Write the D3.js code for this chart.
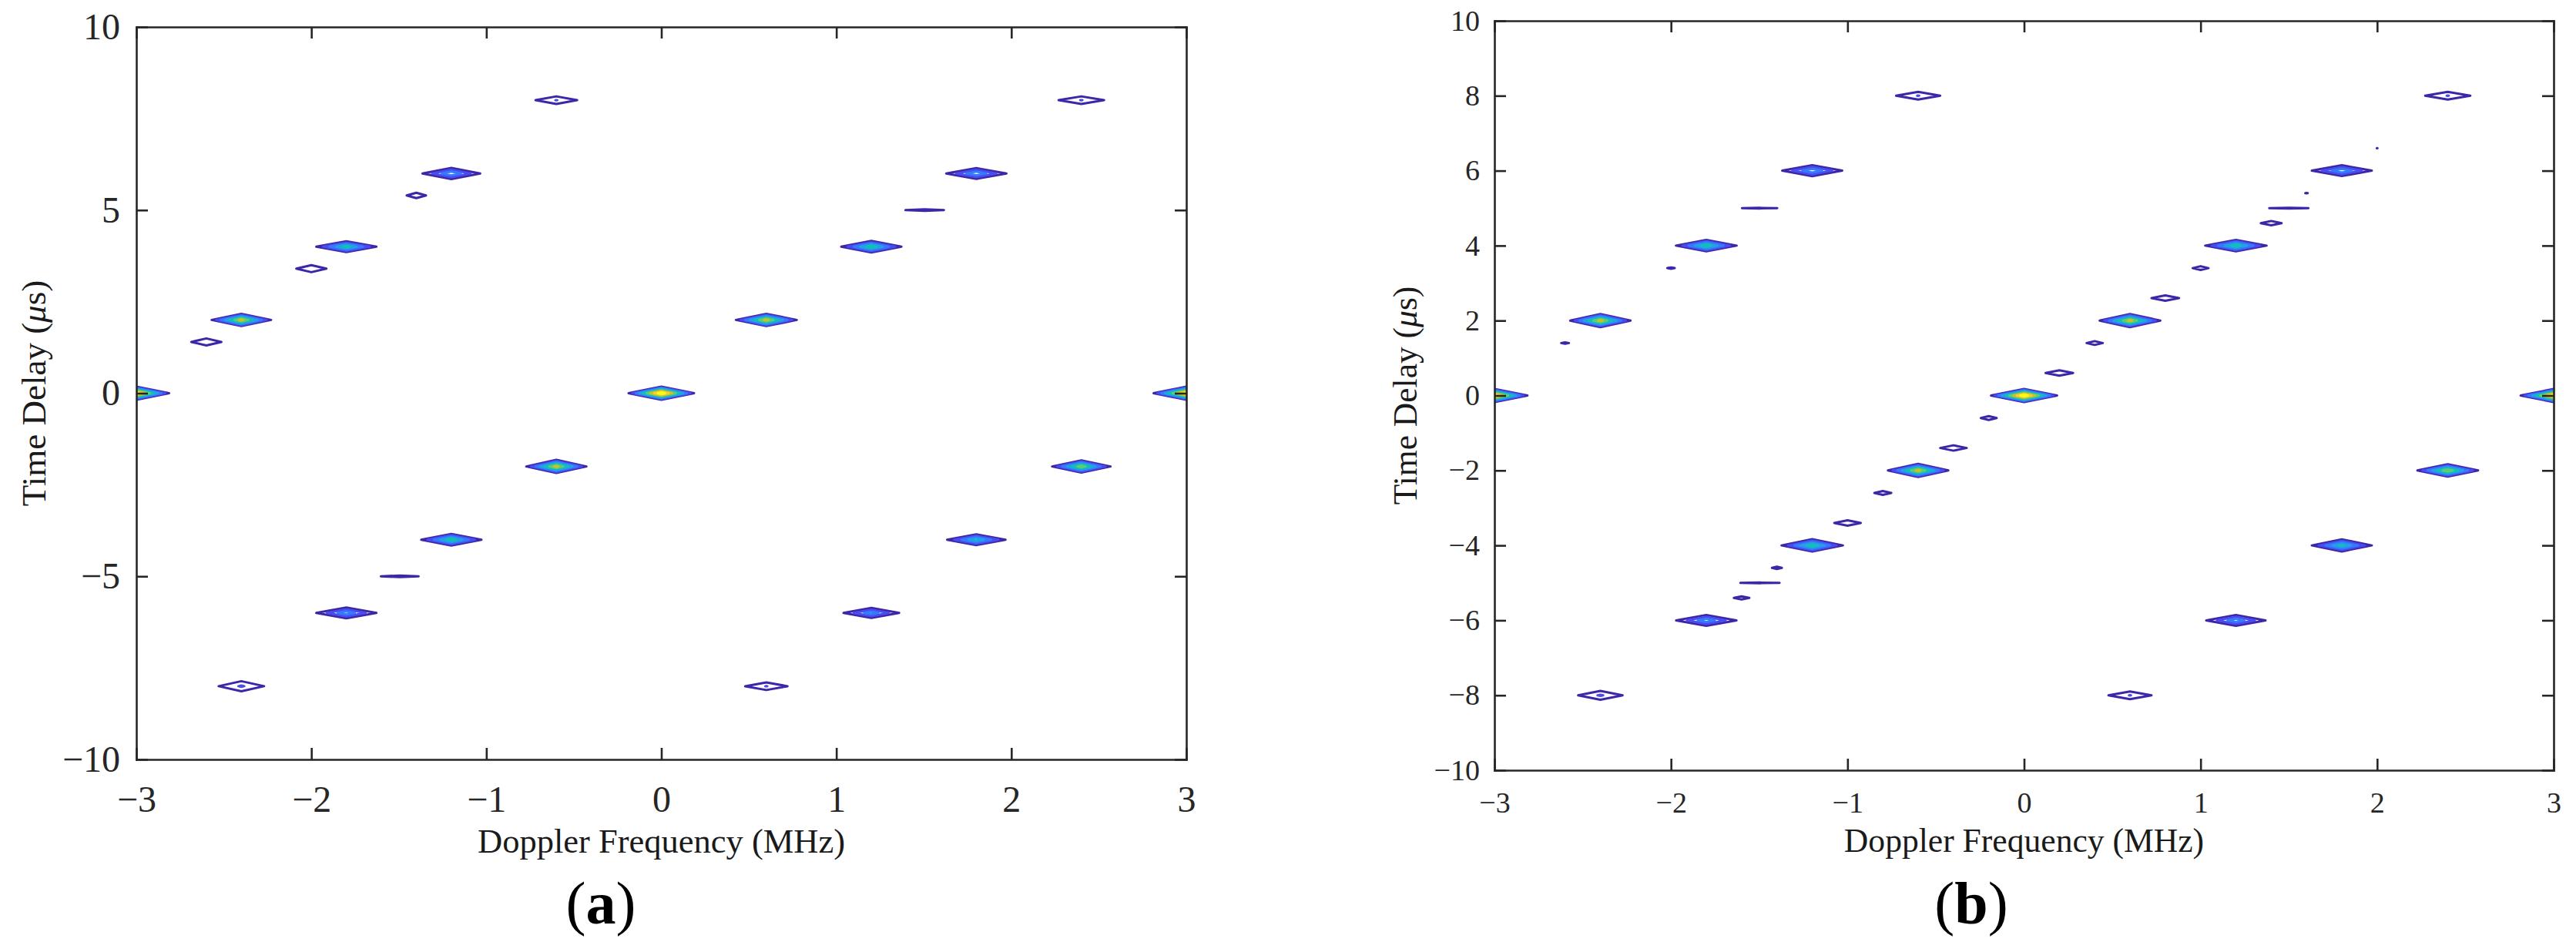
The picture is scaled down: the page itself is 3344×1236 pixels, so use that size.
<!DOCTYPE html>
<html>
<head>
<meta charset="utf-8">
<script src="https://cdn.jsdelivr.net/npm/d3@7"></script>
<style>
  body { margin: 0; background: #ffffff; }
  svg { display: block; }
</style>
</head>
<body>
<svg id="chart" width="3344" height="1236"></svg>
<script>
// ================= DATA =================
const dopplerTicks = [-3, -2, -1, 0, 1, 2, 3];          // MHz
const delayTicksA  = [-10, -5, 0, 5, 10];                // μs
const delayTicksB  = [-10, -8, -6, -4, -2, 0, 2, 4, 6, 8, 10];
const contourLevels = [0.1, 0.2, 0.3, 0.4, 0.5, 0.6, 0.7, 0.8, 0.9];

// Panel (a): peaks of the ambiguity function
const aDoppler = [0, -3, 3, 0.6, -2.4, -0.6, 2.4, -1.8, 1.2, -1.2, 1.8, -1.2, 1.8, -1.8, 1.2, -0.6, 2.4, -2.4, 0.6,
                  -1.4, -2.0, -2.6, -1.495, 1.505];
const aDelay   = [0, 0, 0, 2, 2, -2, -2, 4, 4, -4, -4, 6, 6, -6, -6, 8, 8, -8, -8,
                  5.4, 3.4, 1.4, -5, 5];
const aPeak    = [1.0, 0.95, 0.95, 0.75, 0.75, 0.75, 0.68, 0.55, 0.58, 0.57, 0.5, 0.4, 0.4, 0.38, 0.37, 0.205, 0.205, 0.215, 0.205,
                  0.13, 0.15, 0.15, 0.14, 0.14];
const aHalfWidth  = [0.187, 0.187, 0.187, 0.174, 0.170, 0.172, 0.167, 0.172, 0.172, 0.172, 0.167, 0.165, 0.172, 0.172, 0.159, 0.119, 0.130, 0.130, 0.121,
                     0.055, 0.086, 0.086, 0.108, 0.110];
const aHalfHeight = [0.179, 0.179, 0.179, 0.168, 0.168, 0.179, 0.168, 0.147, 0.158, 0.158, 0.147, 0.152, 0.147, 0.147, 0.137, 0.105, 0.105, 0.137, 0.105,
                     0.074, 0.095, 0.095, 0.022, 0.020];

// Panel (b)
const bDoppler = [0, -3, 3, 0.6, -2.4, -0.6, 2.4, -1.8, 1.2, -1.2, 1.8, -1.2, 1.8, -1.8, 1.2, -0.6, 2.4, -2.4, 0.6,
                  -2.6, -2.0, -1.498, -1.0, -1.4, -1.496, -1.6, -0.8, -0.4, -0.2, 0.2, 0.4, 0.8, 1.0, 1.4, 1.5, 1.6, 2.0];
const bDelay   = [0, 0, 0, 2, 2, -2, -2, 4, 4, -4, -4, 6, 6, -6, -6, 8, 8, -8, -8,
                  1.4, 3.4, 5, -3.4, -4.6, -5, -5.4, -2.6, -1.4, -0.6, 0.6, 1.4, 2.6, 3.4, 4.6, 5, 5.4, 6.6];
const bPeak    = [1.0, 0.95, 0.95, 0.75, 0.75, 0.75, 0.7, 0.57, 0.57, 0.57, 0.52, 0.4, 0.4, 0.38, 0.38, 0.205, 0.205, 0.215, 0.205,
                  0.11, 0.11, 0.13, 0.14, 0.115, 0.13, 0.125, 0.125, 0.14, 0.125, 0.14, 0.125, 0.14, 0.125, 0.13, 0.13, 0.105, 0.102];
const bHalfWidth  = [0.187, 0.187, 0.187, 0.172, 0.171, 0.171, 0.172, 0.172, 0.174, 0.174, 0.170, 0.170, 0.170, 0.171, 0.168, 0.125, 0.128, 0.126, 0.122,
                     0.022, 0.021, 0.100, 0.075, 0.028, 0.111, 0.044, 0.048, 0.075, 0.045, 0.078, 0.046, 0.078, 0.045, 0.059, 0.111, 0.007, 0.002];
const bHalfHeight = [0.175, 0.175, 0.175, 0.175, 0.175, 0.175, 0.165, 0.154, 0.154, 0.165, 0.161, 0.148, 0.144, 0.144, 0.144, 0.103, 0.103, 0.119, 0.103,
                     0.020, 0.020, 0.008, 0.072, 0.031, 0.008, 0.041, 0.051, 0.072, 0.051, 0.072, 0.051, 0.072, 0.051, 0.058, 0.008, 0.005, 0.002];

// parula colormap
const parulaMap = [
[0.2422,0.1504,0.6603],[0.2504,0.1650,0.7076],[0.2578,0.1818,0.7511],[0.2647,0.1978,0.7952],[0.2706,0.2147,0.8364],[0.2751,0.2342,0.8710],[0.2783,0.2559,0.8991],[0.2803,0.2782,0.9221],
[0.2813,0.3006,0.9414],[0.2810,0.3228,0.9579],[0.2795,0.3447,0.9717],[0.2760,0.3667,0.9829],[0.2699,0.3892,0.9906],[0.2602,0.4123,0.9952],[0.2440,0.4358,0.9988],[0.2206,0.4603,0.9973],
[0.1963,0.4847,0.9892],[0.1834,0.5074,0.9798],[0.1786,0.5289,0.9682],[0.1764,0.5499,0.9520],[0.1687,0.5703,0.9359],[0.1540,0.5902,0.9218],[0.1460,0.6091,0.9079],[0.1380,0.6276,0.8973],
[0.1248,0.6459,0.8883],[0.1113,0.6635,0.8763],[0.0952,0.6798,0.8598],[0.0689,0.6948,0.8394],[0.0297,0.7082,0.8163],[0.0036,0.7203,0.7917],[0.0067,0.7312,0.7660],[0.0433,0.7411,0.7394],
[0.0964,0.7500,0.7120],[0.1408,0.7584,0.6842],[0.1717,0.7670,0.6554],[0.1938,0.7758,0.6251],[0.2161,0.7843,0.5923],[0.2470,0.7918,0.5567],[0.2906,0.7973,0.5188],[0.3406,0.8008,0.4789],
[0.3909,0.8029,0.4354],[0.4456,0.8024,0.3909],[0.5044,0.7993,0.3480],[0.5616,0.7942,0.3045],[0.6174,0.7876,0.2612],[0.6720,0.7793,0.2227],[0.7242,0.7698,0.1910],[0.7738,0.7598,0.1646],
[0.8203,0.7498,0.1535],[0.8634,0.7406,0.1596],[0.9035,0.7330,0.1774],[0.9393,0.7288,0.2100],[0.9728,0.7298,0.2394],[0.9956,0.7434,0.2371],[0.9970,0.7659,0.2199],[0.9952,0.7893,0.2028],
[0.9892,0.8136,0.1885],[0.9786,0.8386,0.1766],[0.9676,0.8639,0.1643],[0.9610,0.8890,0.1537],[0.9597,0.9135,0.1423],[0.9628,0.9373,0.1265],[0.9691,0.9606,0.1064],[0.9769,0.9839,0.0805]];

// ================= RENDER =================
const svg = d3.select("#chart");
const FONT = "'Liberation Serif', 'Times New Roman', Times, serif";
const AXIS_COLOR = "#262626";
const intFormat = d3.format("d");

const parulaInterp = d3.piecewise(d3.interpolateRgb,
  parulaMap.map(c => d3.rgb(c[0] * 255, c[1] * 255, c[2] * 255)));
const levelColor = d3.scaleSequential(parulaInterp)
  .domain([contourLevels[0], contourLevels[contourLevels.length - 1]]);

function makePeaks(fs, ts, amps, ws, hs) {
  return fs.map((f, i) => ({ f, t: ts[i], A: amps[i], w: ws[i], h: hs[i] }));
}

const panels = [
  { id: "a", peaks: makePeaks(aDoppler, aDelay, aPeak, aHalfWidth, aHalfHeight), yTicks: delayTicksA,
    x0: 177, x1: 1540, y0: 35, y1: 986,
    tickFont: 48, tickPadX: 34, tickPadY: 21,
    xTitleFont: 44.5, xTitleY: 1107, yTitleFont: 45, yTitleX: 59,
    labelX: 780, labelY: 1199 },
  { id: "b", peaks: makePeaks(bDoppler, bDelay, bPeak, bHalfWidth, bHalfHeight), yTicks: delayTicksB,
    x0: 1940, x1: 3315, y0: 27, y1: 1000,
    tickFont: 38, tickPadX: 28, tickPadY: 19,
    xTitleFont: 43.6, xTitleY: 1106, yTitleFont: 43.5, yTitleX: 1839,
    labelX: 2559, labelY: 1199 }
];

const defs = svg.append("defs");

panels.forEach(cfg => {
  const x = d3.scaleLinear().domain([-3, 3]).range([cfg.x0, cfg.x1]);
  const y = d3.scaleLinear().domain([-10, 10]).range([cfg.y1, cfg.y0]);
  const g = svg.append("g").attr("class", "panel-" + cfg.id);

  const clipId = "clip-" + cfg.id;
  defs.append("clipPath").attr("id", clipId)
    .append("rect")
    .attr("x", cfg.x0).attr("y", cfg.y0)
    .attr("width", cfg.x1 - cfg.x0).attr("height", cfg.y1 - cfg.y0);

  // contour rings: one diamond per level below each peak's height
  const L1 = contourLevels[0];
  const rings = [];
  cfg.peaks.forEach(p => {
    contourLevels.forEach(L => {
      if (L < p.A) rings.push({ p, L, s: (p.A - L) / (p.A - L1) });
    });
  });
  rings.sort((a, b) => a.L - b.L);

  const ringLine = d3.line()
    .x(d => x(d[0])).y(d => y(d[1]))
    .curve(d3.curveLinearClosed);

  g.append("g").attr("clip-path", `url(#${clipId})`)
    .selectAll("path").data(rings).join("path")
    .attr("d", r => ringLine([
      [r.p.f - r.p.w * r.s, r.p.t],
      [r.p.f, r.p.t + r.p.h * r.s],
      [r.p.f + r.p.w * r.s, r.p.t],
      [r.p.f, r.p.t - r.p.h * r.s]
    ]))
    .attr("fill", "none")
    .attr("stroke", r => levelColor(r.L))
    .attr("stroke-width", 3)
    .attr("stroke-linejoin", "round");

  // axes (box with inward ticks)
  function styleAxis(sel, fontSize) {
    sel.attr("font-family", FONT).attr("font-size", fontSize);
    sel.select(".domain").attr("stroke", AXIS_COLOR).attr("stroke-width", 2.6).attr("stroke-linecap", "square");
    sel.selectAll(".tick line").attr("stroke", AXIS_COLOR).attr("stroke-width", 2.6);
    sel.selectAll(".tick text").attr("fill", AXIS_COLOR);
  }

  g.append("g").attr("transform", `translate(0,${cfg.y1})`)
    .call(d3.axisBottom(x).tickValues(dopplerTicks).tickFormat(intFormat)
      .tickSizeInner(-15).tickSizeOuter(0).tickPadding(cfg.tickPadX))
    .call(s => styleAxis(s, cfg.tickFont));
  g.append("g").attr("transform", `translate(0,${cfg.y0})`)
    .call(d3.axisTop(x).tickValues(dopplerTicks).tickSizeInner(-15).tickSizeOuter(0).tickFormat(""))
    .call(s => styleAxis(s, cfg.tickFont));
  g.append("g").attr("transform", `translate(${cfg.x0},0)`)
    .call(d3.axisLeft(y).tickValues(cfg.yTicks).tickFormat(intFormat)
      .tickSizeInner(-15).tickSizeOuter(0).tickPadding(cfg.tickPadY))
    .call(s => styleAxis(s, cfg.tickFont));
  g.append("g").attr("transform", `translate(${cfg.x1},0)`)
    .call(d3.axisRight(y).tickValues(cfg.yTicks).tickSizeInner(-15).tickSizeOuter(0).tickFormat(""))
    .call(s => styleAxis(s, cfg.tickFont));

  // axis titles
  g.append("text")
    .attr("x", (cfg.x0 + cfg.x1) / 2).attr("y", cfg.xTitleY)
    .attr("text-anchor", "middle")
    .attr("font-family", FONT).attr("font-size", cfg.xTitleFont)
    .attr("fill", "#1a1a1a")
    .text("Doppler Frequency (MHz)");

  const yt = g.append("text")
    .attr("transform", `translate(${cfg.yTitleX},${(cfg.y0 + cfg.y1) / 2}) rotate(-90)`)
    .attr("text-anchor", "middle")
    .attr("font-family", FONT).attr("font-size", cfg.yTitleFont)
    .attr("fill", "#1a1a1a");
  yt.append("tspan").text("Time Delay (");
  yt.append("tspan").attr("font-style", "italic").text("μ");
  yt.append("tspan").text("s)");

  // panel label
  const lab = g.append("text")
    .attr("x", cfg.labelX).attr("y", cfg.labelY)
    .attr("text-anchor", "middle")
    .attr("font-family", FONT).attr("font-size", 78)
    .attr("fill", "#000");
  lab.append("tspan").text("(");
  lab.append("tspan").attr("font-weight", "bold").text(cfg.id);
  lab.append("tspan").text(")");
});
</script>
</body>
</html>
